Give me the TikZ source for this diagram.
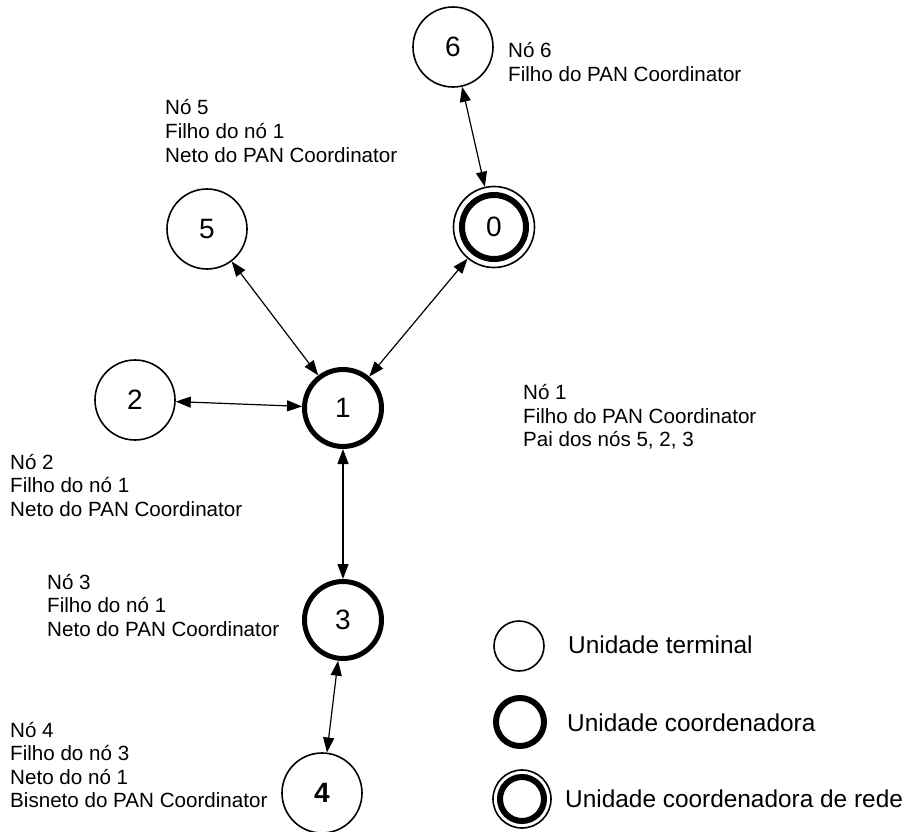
\documentclass[tikz,border=0pt]{standalone}
\usepackage{fontspec}
\setmainfont{Liberation Sans}
\usetikzlibrary{arrows.meta}
\begin{document}
\begin{tikzpicture}[x=1pt,y=-1pt,
  unit/.style={circle,draw,line width=1.6pt,minimum size=80pt,inner sep=0pt,
    font=\fontsize{28}{30}\selectfont},
  coordunit/.style={unit,line width=5pt,minimum size=77pt},
  ring/.style={line width=6pt},
  link/.style={{Triangle[length=15pt,width=11pt]}-{Triangle[length=15pt,width=11pt]},line width=1.2pt},
  % descriptions are anchored on the baseline of their last line
  lbl/.style={anchor=base west,inner sep=0pt,align=left,
    font=\fontsize{20.6}{23.6}\selectfont},
  legtxt/.style={anchor=base west,inner sep=0pt,font=\fontsize{24.4}{28}\selectfont}]
\useasboundingbox (0,0) rectangle (906,832);

% network nodes
\node[unit] (n6) at (453,47) {6};
\node[unit,minimum size=81pt] (n0) at (494,227) {0};
\draw[ring] (n0.center) circle (32pt);
\node[unit] (n5) at (207,229) {5};
\node[coordunit] (n1) at (343,408) {1};
\node[unit] (n2) at (135,400) {2};
\node[coordunit] (n3) at (343,620) {3};
\node[unit,font=\fontsize{28}{30}\selectfont\bfseries] (n4) at (322,793) {4};

% links
\draw[link] (n6) -- (n0);
\draw[link] (n0) -- (n1);
\draw[link] (n5) -- (n1);
\draw[link] (n2) -- (n1);
\draw[link] (n1) -- (n3);
\draw[link] (n3) -- (n4);

% descriptions
\node[lbl] (t6) at (508,81.6) {Nó 6\\Filho do PAN Coordinator};
\node[lbl] (t5) at (165,162.2) {Nó 5\\Filho do nó 1\\Neto do PAN Coordinator};
\node[lbl] (t1) at (523,446.7) {Nó 1\\Filho do PAN Coordinator\\Pai dos nós 5, 2, 3};
\node[lbl] (t2) at (10,516.2) {Nó 2\\Filho do nó 1\\Neto do PAN Coordinator};
\node[lbl] (t3) at (47,636.2) {Nó 3\\Filho do nó 1\\Neto do PAN Coordinator};
\node[lbl] (t4) at (10,807.8) {Nó 4\\Filho do nó 3\\Neto do nó 1\\Bisneto do PAN Coordinator};

% legend
\node[circle,draw,line width=1.6pt,minimum size=50pt,inner sep=0pt] (k1) at (519,646) {};
\node[circle,draw,line width=6pt,minimum size=48pt,inner sep=0pt] (k2) at (520,722) {};
\node[circle,draw,line width=1.6pt,minimum size=58pt,inner sep=0pt] (k3) at (522,799) {};
\draw[ring] (k3.center) circle (22pt);
\node[legtxt] (l1) at (568,653) {Unidade terminal};
\node[legtxt] (l2) at (567,731) {Unidade coordenadora};
\node[legtxt] (l3) at (565,807) {Unidade coordenadora de rede};
\end{tikzpicture}
\end{document}
